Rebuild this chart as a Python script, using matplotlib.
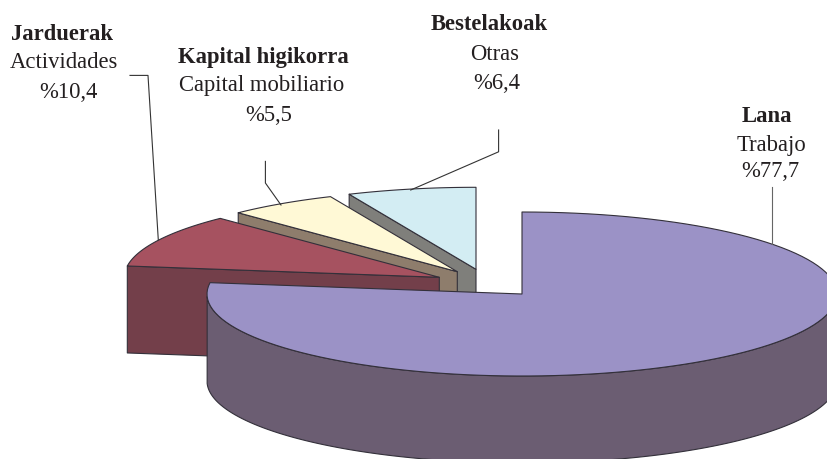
import numpy as np
import matplotlib
matplotlib.use("Agg")
import matplotlib.pyplot as plt
from matplotlib.patches import Polygon

# Slices, clockwise from twelve o'clock
basque_names = ["Lana", "Jarduerak", "Kapital higikorra", "Bestelakoak"]
spanish_names = ["Trabajo", "Actividades", "Capital mobiliario", "Otras"]
shares = [77.7, 10.4, 5.5, 6.4]
top_colors = ["#9B92C6", "#A65260", "#FFF9D6", "#D3EDF3"]
side_colors = ["#6B5D72", "#733F4A", "#8E7D6C", "#7F7F7B"]

# Layout in image pixels
apexes = [(522, 294), (439.3, 277.3), (457.3, 271.7), (476, 269.3)]
rx, ry = 315, 82
depth = 87
warp = 1.8  # the original has a slight perspective, boundaries drift by a degree or two
edge = "#33303a"

# Leader lines and label anchors per slice
leaders = [
    [(772, 187), (772, 244)],
    [(130, 75.4), (148, 75.4), (158.3, 240)],
    [(265.4, 161.4), (265.4, 183), (281, 205)],
    [(498.6, 130), (498.6, 151.8), (410.7, 190)],
]
leader_colors = ["#666666", "#333333", "#333333", "#333333"]
label_x = [(767, 771, 770), (62, 64, 68.5), (263, 262, 268.7), (489, 495, 497)]
label_y = [(122, 150.7, 177), (40, 68.5, 98), (62.5, 91, 121), (30, 60, 89)]

FONT = "Liberation Serif"
FONT_SIZE = 16.3


def rim_points(apex, start, end, n=120):
    # angles in degrees, counterclockwise from the top of the ellipse
    t = np.linspace(start, end, n)
    t = np.radians(t + warp * np.sin(np.radians(t)))
    return np.column_stack([apex[0] - rx * np.sin(t), apex[1] - ry * np.cos(t)])


def add_poly(ax, pts, color, z):
    ax.add_patch(Polygon(pts, closed=True, facecolor=color, edgecolor=edge,
                         linewidth=0.8, joinstyle="round", zorder=z))


fig = plt.figure(figsize=(8.28, 4.59), dpi=100)
ax = fig.add_axes([0, 0, 1, 1])
ax.set_xlim(0, 828)
ax.set_ylim(459, 0)
ax.axis("off")

# Turn the shares into rim angles
degrees = np.array(shares) / sum(shares) * 360
ends = 360 - np.cumsum(degrees)  # where each slice stops
starts = np.concatenate([[360], ends[:-1]])

# Back slices first, the big one goes on top
for i in [3, 2, 1, 0]:
    apex = apexes[i]
    z = 10 - i
    rim = rim_points(apex, starts[i], ends[i])
    drop = np.array([0, depth])
    if i == 0:
        # front wall of the large slice, from the left extreme round to the right
        wall = rim_points(apex, 270, 90)
        add_poly(ax, np.vstack([wall, (wall + drop)[::-1]]), side_colors[i], z)
    else:
        # only the radial wall on the left side of the slice shows
        outer = rim[0]
        inner = np.array(apex)
        add_poly(ax, np.vstack([outer, inner, inner + drop, outer + drop]), side_colors[i], z)
    add_poly(ax, np.vstack([[apex], rim]), top_colors[i], z + 0.5)

for i, line in enumerate(leaders):
    xs, ys = zip(*line)
    ax.plot(xs, ys, color=leader_colors[i], linewidth=0.8, zorder=20)

for i in range(len(shares)):
    value = f"%{shares[i]:.1f}".replace(".", ",")
    texts = [basque_names[i], spanish_names[i], value]
    for j, s in enumerate(texts):
        ax.text(label_x[i][j], label_y[i][j], s, family=FONT, fontsize=FONT_SIZE,
                fontweight="bold" if j == 0 else "normal", color="#231f20",
                ha="center", va="baseline", zorder=21)

fig.savefig("out.png", dpi=100)
